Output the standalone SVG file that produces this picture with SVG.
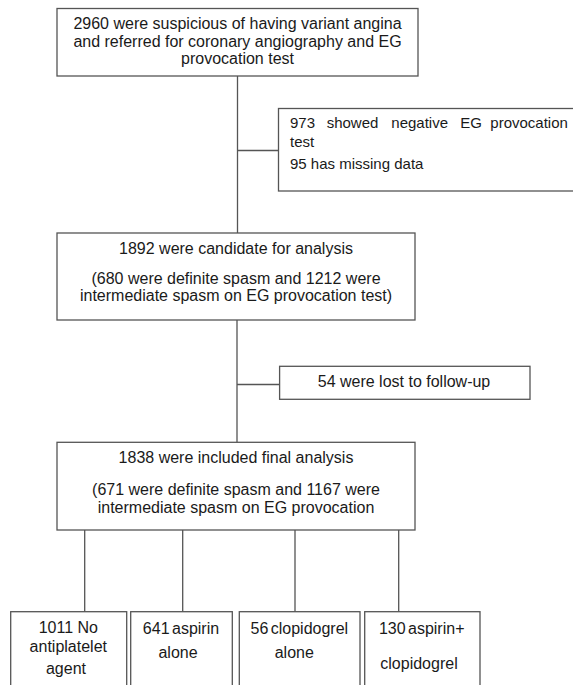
<svg xmlns="http://www.w3.org/2000/svg" width="573" height="685" viewBox="0 0 573 685">
<style>
.box{fill:#fff;stroke:#555;stroke-width:1.3}
.ln{stroke:#555;stroke-width:1.3;fill:none}
text{font-family:"Liberation Sans",Arial,sans-serif;font-size:16px;fill:#1a1a1a}
.c{text-anchor:middle}
.s{font-size:15px}
</style>
<rect width="573" height="685" fill="#fff"/>
<g id="connectors">
<path class="ln" d="M237.5 76V233M237.5 150.5H278.5"/>
<path class="ln" d="M237 320V442M237 384.5H279.6"/>
<path class="ln" d="M84.7 530V611.7M182.7 530V611.7M295 530V611.7M398.7 530V611.7"/>
</g>
<g id="n1">
<rect class="box" x="57" y="8.5" width="361" height="67.5"/>
<text class="c" x="237.5" y="29.3">2960 were suspicious of having variant angina</text>
<text class="c" x="237.5" y="46.8">and referred for coronary angiography and EG</text>
<text class="c" x="237.5" y="64.3">provocation test</text>
</g>
<g id="n2">
<rect class="box" x="278.5" y="108.5" width="300" height="82.5"/>
<text class="s" y="127.5"><tspan x="290">973</tspan><tspan x="326.7">showed</tspan><tspan x="391.3">negative</tspan><tspan x="460.3">EG</tspan><tspan x="490.3">provocation</tspan></text>
<text class="s" x="290" y="146.7">test</text>
<text class="s" x="290" y="169">95 has missing data</text>
</g>
<g id="n3">
<rect class="box" x="57" y="233" width="358" height="87"/>
<text class="c" x="236" y="254">1892 were candidate for analysis</text>
<text class="c" x="236" y="284">(680 were definite spasm and 1212 were</text>
<text class="c" x="236" y="301.3">intermediate spasm on EG provocation test)</text>
</g>
<g id="n4">
<rect class="box" x="279.6" y="366.3" width="250.4" height="33"/>
<text class="c" x="404" y="387">54 were lost to follow-up</text>
</g>
<g id="n5">
<rect class="box" x="57" y="442.3" width="358" height="87.7"/>
<text class="c" x="236" y="462.7">1838 were included final analysis</text>
<text class="c" x="236" y="495">(671 were definite spasm and 1167 were</text>
<text class="c" x="236" y="512.7">intermediate spasm on EG provocation</text>
</g>
<g id="n6">
<rect class="box" x="10.7" y="611.7" width="116" height="90"/>
<text class="c" x="68.3" y="633.3">1011 No</text>
<text class="c" x="68.3" y="651.7">antiplatelet</text>
<text class="c" x="66" y="674.3">agent</text>
</g>
<g id="n7">
<rect class="box" x="130.7" y="611.7" width="101.6" height="90"/>
<text class="c" x="181" y="634.3" word-spacing="-2">641 aspirin</text>
<text class="c" x="178" y="658">alone</text>
</g>
<g id="n8">
<rect class="box" x="239.3" y="611.7" width="120.7" height="90"/>
<text class="c" x="299.3" y="634.3" word-spacing="-2">56 clopidogrel</text>
<text class="c" x="294.3" y="658">alone</text>
</g>
<g id="n9">
<rect class="box" x="364.7" y="611.7" width="115.3" height="90"/>
<text class="c" x="421.7" y="634.3" word-spacing="-2">130 aspirin+</text>
<text class="c" x="419" y="669.3">clopidogrel</text>
</g>
</svg>
